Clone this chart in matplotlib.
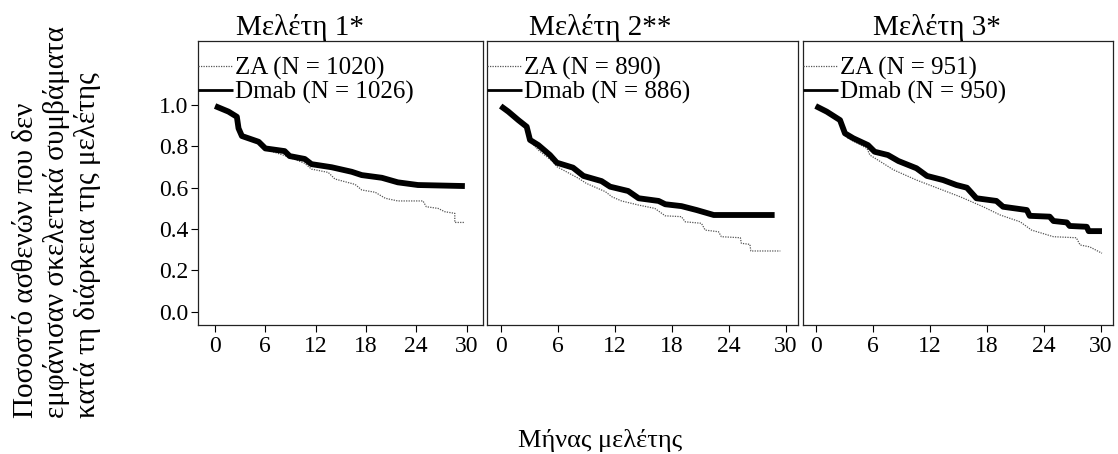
import matplotlib
matplotlib.use("Agg")
import matplotlib.pyplot as plt

plt.rcParams['font.family'] = ['Liberation Serif', 'DejaVu Serif']

titles = ["Μελέτη 1*", "Μελέτη 2**", "Μελέτη 3*"]
za_labels = ["ZA (N = 1020)", "ZA (N = 890)", "ZA (N = 951)"]
dmab_labels = ["Dmab (N = 1026)", "Dmab (N = 886)", "Dmab (N = 950)"]
x_ticks = [0, 6, 12, 18, 24, 30]
y_ticks = [0.0, 0.2, 0.4, 0.6, 0.8, 1.0]
y_label = "Ποσοστό ασθενών που δεν\nεμφάνισαν σκελετικά συμβάματα\nκατά τη διάρκεια της μελέτης"
x_label = "Μήνας μελέτης"

# Study 1
dmab1_t = [0, 1.6, 2.6, 2.8, 3.2, 5.2, 6.0, 8.3, 8.9, 10.7, 11.5, 13.9, 16.3, 17.5, 19.9, 21.8, 24.2, 29.8]
dmab1_s = [0.995, 0.968, 0.943, 0.887, 0.85, 0.822, 0.79, 0.777, 0.753, 0.739, 0.714, 0.699, 0.677, 0.661, 0.648, 0.626, 0.613, 0.608]
za1_t = [0, 1.6, 2.6, 2.8, 3.2, 5.2, 6.0, 8.7, 10.7, 11.5, 13.5, 14.3, 16.7, 17.5, 19.1, 20.3, 21.8, 24.8, 25.2, 26.6, 27.4, 28.6, 28.6, 29.8]
za1_s = [0.995, 0.966, 0.94, 0.885, 0.848, 0.818, 0.786, 0.75, 0.718, 0.69, 0.674, 0.642, 0.616, 0.589, 0.578, 0.549, 0.536, 0.536, 0.508, 0.50, 0.484, 0.476, 0.432, 0.432]

# Study 2
dmab2_t = [0, 0.8, 1.85, 2.73, 3.08, 3.96, 5.18, 5.9, 7.6, 8.7, 10.6, 11.5, 13.4, 14.5, 16.6, 17.3, 19.0, 20.6, 22.4, 28.8]
dmab2_s = [0.995, 0.968, 0.927, 0.895, 0.831, 0.806, 0.758, 0.721, 0.697, 0.657, 0.632, 0.605, 0.584, 0.549, 0.536, 0.52, 0.511, 0.492, 0.468, 0.468]
za2_t = [0, 0.8, 1.85, 2.73, 3.08, 3.96, 5.5, 5.9, 8.2, 9.0, 11.0, 11.7, 12.7, 14.5, 16.2, 17.3, 19.0, 19.4, 21.1, 21.5, 22.9, 23.2, 25.2, 25.3, 26.2, 26.3, 29.4]
za2_s = [0.995, 0.966, 0.925, 0.892, 0.825, 0.782, 0.726, 0.702, 0.645, 0.621, 0.581, 0.556, 0.536, 0.516, 0.50, 0.464, 0.46, 0.435, 0.428, 0.395, 0.387, 0.363, 0.358, 0.331, 0.326, 0.294, 0.294]

# Study 3
dmab3_t = [0, 1.16, 2.56, 3.08, 3.96, 5.5, 6.2, 7.6, 8.7, 10.6, 11.7, 13.4, 14.8, 15.9, 16.9, 19.0, 19.7, 22.2, 22.5, 24.6, 25.0, 26.4, 26.7, 28.5, 28.7, 30.1]
dmab3_s = [0.995, 0.968, 0.927, 0.863, 0.839, 0.806, 0.774, 0.758, 0.729, 0.694, 0.657, 0.637, 0.613, 0.60, 0.549, 0.536, 0.508, 0.492, 0.464, 0.46, 0.439, 0.432, 0.415, 0.411, 0.39, 0.39]
za3_t = [0, 1.16, 2.56, 3.08, 3.4, 5.4, 5.7, 8.2, 10.6, 12.7, 15.2, 17.6, 19.4, 21.5, 22.7, 25.0, 27.4, 27.8, 28.8, 30.1]
za3_s = [0.995, 0.966, 0.925, 0.86, 0.839, 0.79, 0.758, 0.686, 0.637, 0.60, 0.556, 0.508, 0.468, 0.435, 0.395, 0.363, 0.358, 0.323, 0.314, 0.283]

dmab_t = [dmab1_t, dmab2_t, dmab3_t]
dmab_s = [dmab1_s, dmab2_s, dmab3_s]
za_t = [za1_t, za2_t, za3_t]
za_s = [za1_s, za2_s, za3_s]

W, H = 1118, 454
fig = plt.figure(figsize=(W / 100, H / 100), dpi=100)

panels_px = [(198.3, 285.0), (487.3, 311.0), (803.3, 310.0)]
xlims = [(-2.0, 32.0), (-1.41, 31.29), (-1.30, 31.29)]
top_px, bot_px = 40.7, 325.0
ylim = (-0.064, 1.311)
title_x = [300, 600, 937]

for i in range(3):
    lx, wx = panels_px[i]
    ax = fig.add_axes([lx / W, 1 - bot_px / H, wx / W, (bot_px - top_px) / H])
    ax.plot(za_t[i], za_s[i], color='#555555', lw=0.9, ls=(0, (1, 1)), label=za_labels[i])
    ax.plot(dmab_t[i], dmab_s[i], color='black', lw=4.2, solid_capstyle='butt',
            solid_joinstyle='round', label=dmab_labels[i])
    ax.set_xlim(*xlims[i])
    ax.set_ylim(*ylim)
    ax.set_xticks(x_ticks)
    ax.set_xticklabels([str(t) for t in x_ticks], fontsize=17)
    ax.tick_params(axis='x', direction='out', length=5, width=0.8, pad=3, colors='black')
    if i == 0:
        ax.set_yticks(y_ticks)
        ax.set_yticklabels([f"{t:.1f}" for t in y_ticks], fontsize=17)
        ax.tick_params(axis='y', direction='out', length=5, width=0.8, pad=2)
    else:
        ax.set_yticks([])
    for sp in ax.spines.values():
        sp.set_linewidth(0.9)
        sp.set_color('#222222')
    leg = ax.legend(loc='upper left', bbox_to_anchor=(0, 0.944), frameon=False,
                    fontsize=18, borderaxespad=0, borderpad=0, handlelength=1.4,
                    handletextpad=0.05, labelspacing=0.06)
    leg.get_lines()[1].set_linewidth(2.0)
    fig.text(title_x[i] / W, 1 - 35 / H, titles[i], fontsize=21, ha='center', va='baseline')

fig.text(57 / W, 1 - 418 / H, y_label, rotation=90, fontsize=21, ha='center', va='bottom',
         multialignment='left', linespacing=1.2)
fig.text(600 / W, 1 - 447 / H, x_label, fontsize=19, ha='center', va='baseline')

fig.savefig("out.png", dpi=100)
